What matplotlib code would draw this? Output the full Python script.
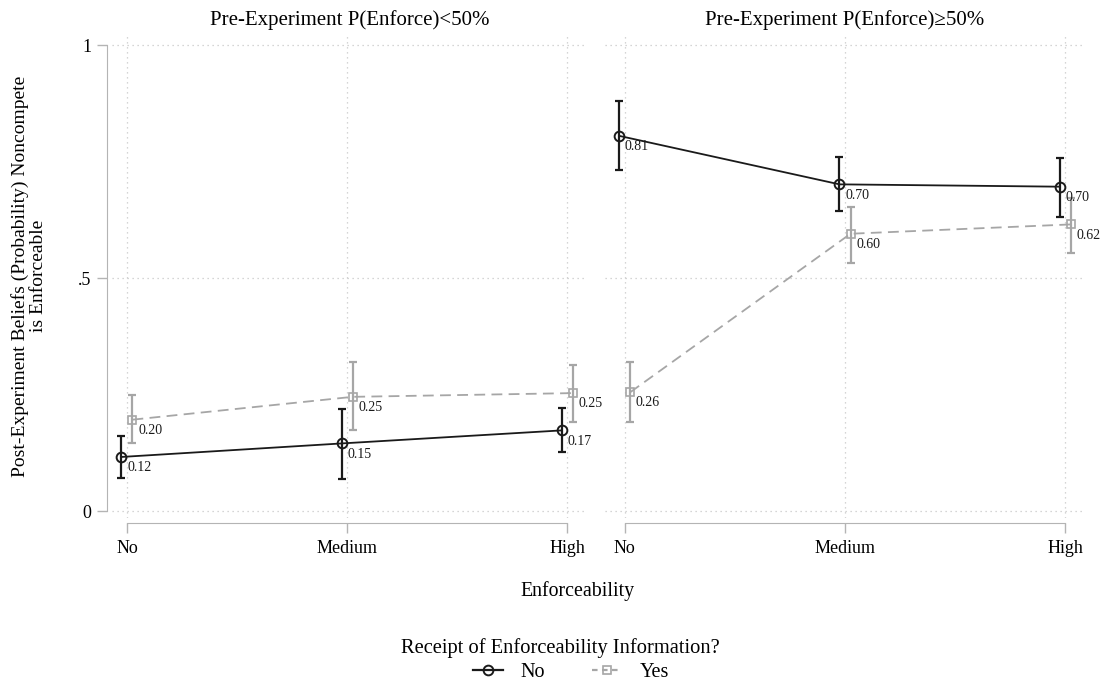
import numpy as np
import matplotlib
matplotlib.use("Agg")
import matplotlib.pyplot as plt
from matplotlib.lines import Line2D

plt.rcParams['font.family'] = ['Liberation Serif', 'DejaVu Serif']

# categories on the x axis
levels = ["No", "Medium", "High"]

# panel titles
panels = ["Pre-Experiment P(Enforce)<50%", "Pre-Experiment P(Enforce)\u226550%"]

# mean beliefs and 95% CI, no information group (per panel)
no_mean = [[0.117, 0.146, 0.174], [0.806, 0.702, 0.697]]
no_lo = [[0.071, 0.069, 0.127], [0.732, 0.644, 0.632]]
no_hi = [[0.163, 0.220, 0.222], [0.880, 0.760, 0.758]]

# mean beliefs and 95% CI, received information group (per panel)
yes_mean = [[0.197, 0.246, 0.254], [0.256, 0.596, 0.616]]
yes_lo = [[0.147, 0.174, 0.192], [0.192, 0.534, 0.554]]
yes_hi = [[0.249, 0.320, 0.315], [0.320, 0.653, 0.672]]

BLACK = "#1a1a1a"
GREY = "#a6a6a6"
AXCOL = "#b4b4b4"
GRIDCOL = "#c8c8c8"

W, H = 1108, 687
fig = plt.figure(figsize=(W / 100, H / 100), dpi=100)

def frac(x0, y0, x1, y1):
    return [x0 / W, 1 - y1 / H, (x1 - x0) / W, (y1 - y0) / H]

axes = [fig.add_axes(frac(112, 35, 587, 518)),
        fig.add_axes(frac(605, 35, 1085, 518))]

x = np.arange(len(levels))
off = 0.025

for k, ax in enumerate(axes):
    if k == 0:
        ax.set_xlim(-0.068, 2.09)
    else:
        ax.set_xlim(-0.09, 2.09)
    ax.set_ylim(-0.014, 1.0225)

    # dotted grid
    for gy in [0, 0.5, 1]:
        ax.axhline(gy, color=GRIDCOL, lw=0.9, ls=(0, (1, 3)), zorder=0)
    for gx in x:
        ax.axvline(gx, color=GRIDCOL, lw=0.9, ls=(0, (1, 3)), zorder=0)

    # no information series
    xn = x - off
    ax.errorbar(xn, no_mean[k],
                yerr=[np.array(no_mean[k]) - np.array(no_lo[k]),
                      np.array(no_hi[k]) - np.array(no_mean[k])],
                fmt="none", ecolor=BLACK, elinewidth=1.6, capsize=3,
                capthick=1.6, zorder=3)
    ax.plot(xn, no_mean[k], color=BLACK, lw=1.3, marker="o", ms=7,
            mfc="none", mec=BLACK, mew=1.4, zorder=4)

    # information series
    xy = x + off
    ax.errorbar(xy, yes_mean[k],
                yerr=[np.array(yes_mean[k]) - np.array(yes_lo[k]),
                      np.array(yes_hi[k]) - np.array(yes_mean[k])],
                fmt="none", ecolor=GREY, elinewidth=1.6, capsize=3,
                capthick=1.6, zorder=3)
    ax.plot(xy, yes_mean[k], color=GREY, lw=1.3, ls=(0, (6, 3.5)), marker="s",
            ms=6, mfc="none", mec=GREY, mew=1.2, zorder=4)

    # value labels at lower right of each marker
    for xi, v in zip(xn, no_mean[k]):
        ax.annotate(f"{v:.2f}", (xi, v), xytext=(4, -3), textcoords="offset points",
                    ha="left", va="top", fontsize=10, color=BLACK)
    for xi, v in zip(xy, yes_mean[k]):
        ax.annotate(f"{v:.2f}", (xi, v), xytext=(4, -3), textcoords="offset points",
                    ha="left", va="top", fontsize=10, color=BLACK)

    # axes styling
    ax.spines["top"].set_visible(False)
    ax.spines["right"].set_visible(False)
    ax.spines["bottom"].set_position(("outward", 3.6))
    ax.spines["bottom"].set_bounds(0, 2)
    ax.spines["bottom"].set_color(AXCOL)
    ax.set_xticks(x)
    ax.set_xticklabels(levels, fontsize=13)
    ax.tick_params(axis="x", length=7, width=1, color=AXCOL, pad=5)

    if k == 0:
        ax.spines["left"].set_position(("outward", 3.6))
        ax.spines["left"].set_bounds(0, 1)
        ax.spines["left"].set_color(AXCOL)
        ax.set_yticks([0, 0.5, 1])
        ax.set_yticklabels(["0", ".5", "1"], fontsize=13)
        ax.tick_params(axis="y", length=7, width=1, color=AXCOL, pad=4)
    else:
        ax.spines["left"].set_visible(False)
        ax.set_yticks([])

    ax.set_title(panels[k], fontsize=15, pad=7)

fig.text(29 / W, 1 - 276 / H, "Post-Experiment Beliefs (Probability) Noncompete\nis Enforceable",
         rotation=90, ha="center", va="center", fontsize=14, linespacing=1.1)
fig.text(577 / W, 1 - 591 / H, "Enforceability", ha="center", va="center", fontsize=14.3)
fig.text(560 / W, 1 - 648 / H, "Receipt of Enforceability Information?",
         ha="center", va="center", fontsize=14.8)

handles = [Line2D([], [], color=BLACK, lw=1.6, marker="o", ms=7, mfc="none", mew=1.4),
           Line2D([], [], color=GREY, lw=1.6, ls=(0, (2.5, 2)), marker="s", ms=6,
                  mfc="none", mew=1.2)]
fig.legend(handles, ["No", "Yes"], loc="center", bbox_to_anchor=(571 / W, 1 - 672 / H),
           ncol=2, frameon=False, fontsize=14.5, handlelength=1.5, columnspacing=2.3,
           handletextpad=0.9)

fig.savefig("out.png", dpi=100, facecolor="white")
